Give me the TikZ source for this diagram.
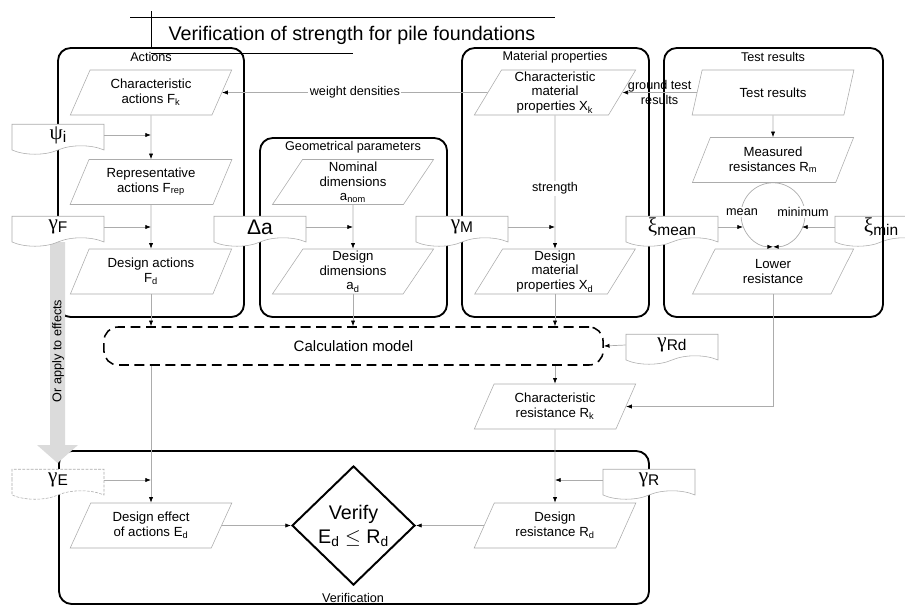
\documentclass[tikz,border=0pt]{standalone}
\usepackage{fontspec}
\setmainfont{Liberation Sans}
\newfontfamily\grk{Liberation Serif}
\usetikzlibrary{shapes.geometric,shapes.symbols,arrows.meta}
\tikzset{
  group/.style={draw, line width=1.3pt, rounded corners=9pt},
  grouplabel/.style={font=\fontsize{9}{10}\selectfont},
  para/.style={trapezium, trapezium left angle=64, trapezium right angle=116,
    trapezium stretches=true, draw=gray!65, fill=white, minimum width=4.05cm,
    minimum height=1.125cm, align=center, inner sep=0pt,
    font=\fontsize{9.4}{10.6}\selectfont},
  doc/.style={tape, tape bend top=none, tape bend height=6pt, draw=gray!65,
    fill=white, minimum width=2.3cm, minimum height=0.75cm, inner sep=0pt},
  conn/.style={draw=gray!65, line width=0.5pt, -{Latex[color=black,length=4pt,width=3pt]}},
  lbl/.style={fill=white, inner sep=1pt, font=\fontsize{9}{10}\selectfont},
}
\newcommand\coef[2]{{\grk\fontsize{15}{15}\selectfont #1}{\fontsize{11}{11}\selectfont\raisebox{-0.4ex}{#2}}}
\begin{document}
\begin{tikzpicture}[x=0.025cm,y=-0.025cm]
  \useasboundingbox (0,0) rectangle (905,606);

  \draw[line width=0.6pt] (130,17) -- (555,17);
  \draw[line width=0.6pt] (151,11) -- (151,47);
  \draw[line width=0.6pt] (151,53) -- (353,53);
  \node[font=\fontsize{14}{16}\selectfont] (title) at (352,35) {Verification of strength for pile foundations};

  \node[doc, fill=none] (ximin) at (881,227) {\coef{ξ}{min}};

  \draw[group] (58,48) rectangle (244,317);
  \draw[group] (260,138) rectangle (447,317);
  \draw[group] (462,48) rectangle (649,317);
  \draw[group] (664,48) rectangle (883,317);
  \draw[group] (59,451) rectangle (649,604);
  \node[grouplabel] (actlbl) at (151,57) {Actions};
  \node[grouplabel] (geolbl) at (353,147) {Geometrical parameters};
  \node[grouplabel] (matlbl) at (555,57) {Material properties};
  \node[grouplabel] (testlbl) at (773,57) {Test results};
  \node[grouplabel] (verlbl) at (353,598) {Verification};

  \fill[gray!28] (50,242) -- (65,242) -- (65,445) -- (78,445) -- (57.5,463)
    -- (37,445) -- (50,445) -- cycle;
  \node[rotate=90, font=\fontsize{9}{10}\selectfont] (effects) at (58,351) {Or apply to effects};

  \node[para] (fk) at (151,92.5) {Characteristic\\actions F\textsubscript{k}};
  \node[para] (frep) at (151,182) {Representative\\actions F\textsubscript{rep}};
  \node[para] (fd) at (151,271.5) {Design actions\\F\textsubscript{d}};
  \node[para] (anom) at (353,182) {Nominal\\dimensions\\a\textsubscript{nom}};
  \node[para] (ad) at (353,271.5) {Design\\dimensions\\a\textsubscript{d}};
  \node[para] (xk) at (555,92.5) {Characteristic\\material\\properties X\textsubscript{k}};
  \node[para] (xd) at (555,271.5) {Design\\material\\properties X\textsubscript{d}};
  \node[para] (tr) at (773,92.5) {Test results};
  \node[para] (rm) at (773,160) {Measured\\resistances R\textsubscript{m}};
  \node[para] (lowres) at (773,271.5) {Lower\\resistance};
  \node[para] (rk) at (555,406.5) {Characteristic\\resistance R\textsubscript{k}};
  \node[para] (ed) at (151,525.5) {Design effect\\of actions E\textsubscript{d}};
  \node[para] (rd) at (555,525.5) {Design\\resistance R\textsubscript{d}};

  \node[draw, dashed, dash pattern=on 7pt off 4pt, line width=1.1pt, rounded corners=10pt,
    minimum width=12.475cm, minimum height=0.95cm, font=\fontsize{10.7}{12}\selectfont]
    (calc) at (353.5,346) {Calculation model};
  \node[diamond, draw, line width=1.4pt, minimum width=3.075cm, minimum height=2.975cm,
    inner sep=0pt, align=center, font=\fontsize{14}{17}\selectfont]
    (verify) at (353.5,525.5) {Verify\\E\textsubscript{d} $\leq$ R\textsubscript{d}};

  \node[doc] (psi) at (58,135) {\coef{ψ}{i}};
  \node[doc] (gf) at (58,227) {\coef{γ}{F}};
  \node[doc] (da) at (260,227) {\fontsize{15}{15}\selectfont Δa};
  \node[doc] (gm) at (462,227) {\coef{γ}{M}};
  \node[doc] (ximean) at (672,227) {\coef{ξ}{mean}};
  \node[doc] (grd) at (672,345) {\coef{γ}{Rd}};
  \node[doc] (gr) at (649,480) {\coef{γ}{R}};
  \node[doc, dashed, dash pattern=on 2pt off 1pt] (ge) at (58,480) {\coef{γ}{E}};

  \coordinate (cl) at (743,227);
  \coordinate (cr) at (802,227);

  \draw[conn] (fk) -- (frep);
  \draw[conn] (psi.east) -- (psi.east -| fk.south);
  \draw[conn] (frep) -- (fd);
  \draw[conn] (gf.east) -- (gf.east -| fd.north);
  \draw[conn] (fd.south) -- (fd.south |- calc.north);
  \draw[conn] (xk.west) -- node[lbl] {weight densities} (fk.east);
  \draw[conn] (anom) -- (ad);
  \draw[conn] (da.east) -- (da.east -| ad.north);
  \draw[conn] (ad.south) -- (ad.south |- calc.north);
  \draw[conn] (xk) -- node[lbl, pos=0.55] {strength} (xd);
  \draw[conn] (gm.east) -- (gm.east -| xd.north);
  \draw[conn] (xd.south) -- (xd.south |- calc.north);
  \draw[conn] (tr.west) -- node[align=center, font=\fontsize{9}{10.5}\selectfont] {ground test\\results} (xk.east);
  \draw[conn] (tr) -- (rm);
  \draw[conn] (rm.south) arc[start angle=90, end angle=270, radius=0.8cm];
  \draw[conn] (rm.south) arc[start angle=90, end angle=-90, radius=0.8cm];
  \node[lbl] (mean) at (742,212) {mean};
  \node[lbl] (minimum) at (803,212) {minimum};
  \draw[conn] (ximean.east) -- (cl);
  \draw[conn] (ximin.west) -- (cr);
  \draw[conn] (lowres.south) |- (rk.east);
  \draw[conn] (grd.west) -- (calc.east);
  \draw[conn] (rk.north |- calc.south) -- (rk.north);
  \draw[conn] (ed.north |- calc.south) -- (ed.north);
  \draw[conn] (ge.east) -- (ge.east -| ed.north);
  \draw[conn] (rk) -- (rd);
  \draw[conn] (gr.west) -- (gr.west -| rd.north);
  \draw[conn] (ed.east) -- (verify.west);
  \draw[conn] (rd.west) -- (verify.east);
\end{tikzpicture}
\end{document}
